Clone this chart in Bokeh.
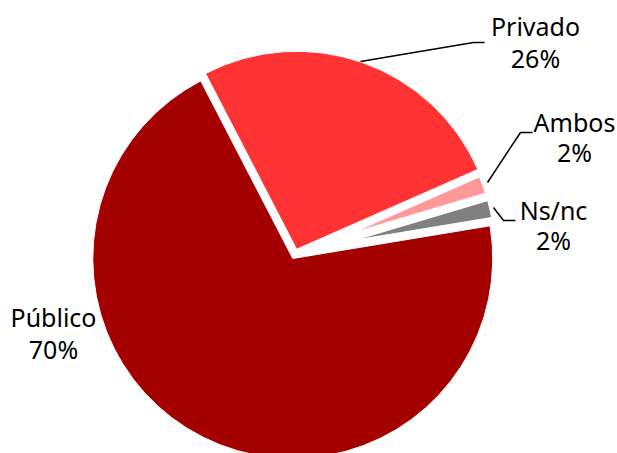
import numpy as np
from bokeh.plotting import figure
from bokeh.models import Range1d, ColumnDataSource
from bokeh.core.properties import value
from bokeh.embed import file_html
from bokeh.resources import INLINE

# ---- data (counter-clockwise order starting at the right) ----
categories = ["Ns/nc", "Ambos", "Privado", "Público"]
shares = [2, 2, 26, 70]
colors = ["#808080", "#FF9999", "#FF3333", "#A50000"]

# ---- layout (picture pixel space: x right, y = 453 - screen y) ----
W, H = 617, 453
CX, CY = 294.5, 453 - 253.5
START_DEG = 9.4
explode = [62, 62, 5, 5]
radius = [138, 138, 198, 200]

vals = np.array(shares, dtype=float)
frac = vals / vals.sum()
ends = np.deg2rad(START_DEG) + 2 * np.pi * np.cumsum(frac)
starts = ends - 2 * np.pi * frac
mids = (starts + ends) / 2
xs = CX + np.array(explode) * np.cos(mids)
ys = CY + np.array(explode) * np.sin(mids)

src = ColumnDataSource(dict(x=xs, y=ys, r=radius, s=starts, e=ends, c=colors, cat=categories))

p = figure(width=W, height=H, output_backend="svg", toolbar_location=None,
           x_range=Range1d(0, W), y_range=Range1d(453 - H, 453),
           min_border=0, outline_line_color=None)
p.axis.visible = False
p.grid.visible = False
p.background_fill_color = "white"
p.border_fill_color = "white"

p.wedge(x="x", y="y", radius="r", start_angle="s", end_angle="e",
        fill_color="c", line_color="white", line_width=1, source=src)

# leader lines (screen coords -> data)
leaders = {
    "Privado": [(360, 61), (473, 42), (484, 42)],
    "Ambos": [(487, 182), (520, 132), (532, 132)],
    "Ns/nc": [(493, 207), (503, 220), (515, 220)],
}
for pts in leaders.values():
    p.line([a for a, b in pts], [453 - b for a, b in pts], line_color="black", line_width=1.5)

# label positions: (center x, name baseline, pct baseline) in screen coords
label_pos = {
    "Privado": (535, 25, 57),
    "Ambos": (574, 121, 151),
    "Ns/nc": (553, 209, 239),
    "Público": (53, 316, 348),
}
tx, ty, tt = [], [], []
for cat, sh in zip(categories, shares):
    cx, b1, b2 = label_pos[cat]
    tx += [cx, cx]
    ty += [453 - b1, 453 - b2]
    tt += [cat, f"{sh}%"]
p.text(x=tx, y=ty, text=tt, text_align="center", text_baseline="alphabetic",
       text_font=value("Noto Sans"), text_font_size="25px", text_color="black")

open("out.html", "w").write(file_html(p, INLINE))
